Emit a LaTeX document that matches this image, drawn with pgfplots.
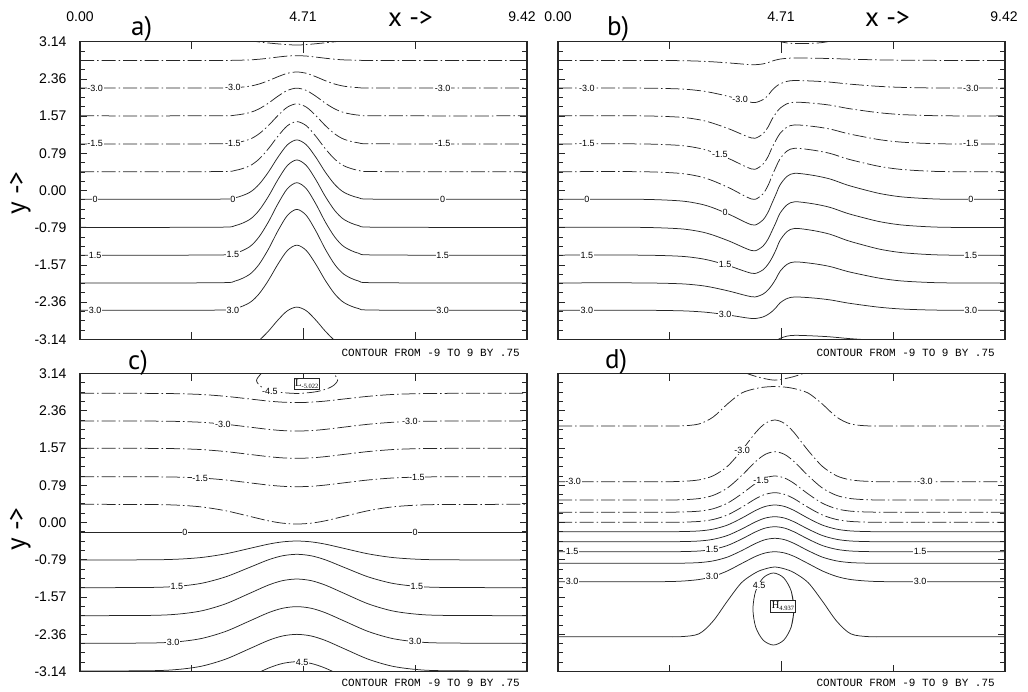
\documentclass[border=0pt]{standalone}
\usepackage{fontspec}
\setmainfont{Liberation Sans}
\newfontfamily\headfont{PT Sans}
\newfontfamily\cfont{Liberation Mono}
\newfontfamily\boxfont{Liberation Serif}
\usepackage{pgfplots}
\usepackage{pgfplotstable}
\pgfplotsset{compat=1.18}

% contour lines, one column per level (y position of the line at each x)
\pgfplotstableread{
x     l1    l2    l3    l4    l5    l6     l7     l8     l9     l10    l11
0     2.745 2.161 1.575 0.983 0.397 -0.186 -0.778 -1.364 -1.950 -2.527 -3.400
2.87  2.745 2.162 1.576 0.985 0.399 -0.183 -0.775 -1.361 -1.947 -2.524 -3.398
3.27  2.748 2.170 1.590 1.005 0.424 -0.153 -0.741 -1.324 -1.910 -2.491 -3.376
3.57  2.756 2.200 1.642 1.079 0.517 -0.043 -0.616 -1.190 -1.773 -2.370 -3.293
3.77  2.770 2.246 1.721 1.194 0.660 0.126  -0.424 -0.983 -1.564 -2.185 -3.166
3.97  2.791 2.317 1.843 1.370 0.881 0.388  -0.126 -0.664 -1.239 -1.898 -2.969
4.17  2.816 2.401 1.989 1.581 1.144 0.701  0.228  -0.283 -0.853 -1.556 -2.735
4.37  2.837 2.473 2.111 1.759 1.366 0.964  0.527  0.038  -0.527 -1.267 -2.538
4.57  2.845 2.501 2.160 1.829 1.454 1.068  0.645  0.165  -0.398 -1.153 -2.460
4.77  2.837 2.473 2.111 1.759 1.366 0.964  0.527  0.038  -0.527 -1.267 -2.538
4.97  2.816 2.401 1.989 1.581 1.144 0.701  0.228  -0.283 -0.853 -1.556 -2.735
5.17  2.791 2.317 1.843 1.370 0.881 0.388  -0.126 -0.664 -1.239 -1.898 -2.969
5.37  2.770 2.246 1.721 1.194 0.660 0.126  -0.424 -0.983 -1.564 -2.185 -3.166
5.57  2.756 2.200 1.642 1.079 0.517 -0.043 -0.616 -1.190 -1.773 -2.370 -3.293
5.87  2.748 2.170 1.590 1.005 0.424 -0.153 -0.741 -1.324 -1.910 -2.491 -3.376
6.27  2.745 2.162 1.576 0.985 0.399 -0.183 -0.775 -1.361 -1.947 -2.524 -3.398
9.42  2.745 2.161 1.575 0.983 0.397 -0.186 -0.778 -1.364 -1.950 -2.527 -3.400
}\tabA

\pgfplotstableread{
x     l1    l2    l3    l4    l5     l6     l7     l8     l9     l10    l11
0     2.745 2.161 1.575 0.983 0.397  -0.186 -0.778 -1.364 -1.950 -2.527 -3.200
1.728 2.745 2.161 1.575 0.983 0.397  -0.186 -0.778 -1.364 -1.950 -2.527 -3.200
2.571 2.740 2.143 1.547 0.951 0.362  -0.219 -0.808 -1.387 -1.968 -2.538 -3.200
2.993 2.729 2.106 1.490 0.887 0.292  -0.284 -0.867 -1.434 -2.003 -2.559 -3.200
3.267 2.715 2.060 1.419 0.806 0.204  -0.365 -0.941 -1.492 -2.048 -2.585 -3.200
3.625 2.690 1.978 1.292 0.662 0.047  -0.512 -1.075 -1.596 -2.128 -2.633 -3.200
3.983 2.661 1.880 1.141 0.491 -0.140 -0.686 -1.233 -1.720 -2.222 -2.689 -3.200
4.152 2.654 1.856 1.103 0.448 -0.187 -0.729 -1.273 -1.751 -2.246 -2.703 -3.200
4.320 2.672 1.917 1.197 0.555 -0.070 -0.620 -1.174 -1.674 -2.187 -2.668 -3.200
4.426 2.699 2.008 1.339 0.715 0.105  -0.458 -1.026 -1.558 -2.098 -2.615 -3.200
4.510 2.731 2.115 1.504 0.903 0.309  -0.267 -0.852 -1.422 -1.994 -2.553 -3.200
4.594 2.755 2.193 1.633 1.063 0.496  -0.076 -0.670 -1.251 -1.861 -2.471 -3.171
4.679 2.773 2.250 1.735 1.204 0.669  0.117  -0.480 -1.053 -1.706 -2.372 -3.121
4.826 2.790 2.303 1.830 1.337 0.833  0.298  -0.302 -0.867 -1.559 -2.280 -3.073
4.995 2.796 2.322 1.865 1.385 0.892  0.364  -0.237 -0.799 -1.506 -2.246 -3.056
5.374 2.792 2.309 1.842 1.353 0.852  0.320  -0.280 -0.844 -1.542 -2.268 -3.068
5.732 2.785 2.287 1.801 1.297 0.783  0.243  -0.356 -0.923 -1.604 -2.308 -3.088
6.091 2.773 2.250 1.735 1.204 0.669  0.117  -0.480 -1.053 -1.706 -2.372 -3.121
6.428 2.764 2.222 1.685 1.136 0.585  0.023  -0.572 -1.149 -1.781 -2.420 -3.145
6.786 2.756 2.196 1.639 1.071 0.506  -0.065 -0.659 -1.240 -1.852 -2.465 -3.168
7.208 2.750 2.177 1.604 1.023 0.447  -0.131 -0.724 -1.307 -1.906 -2.499 -3.186
7.735 2.747 2.166 1.584 0.995 0.412  -0.169 -0.762 -1.347 -1.937 -2.519 -3.196
8.262 2.745 2.161 1.575 0.983 0.397  -0.186 -0.778 -1.364 -1.950 -2.527 -3.200
9.42  2.745 2.161 1.575 0.983 0.397  -0.186 -0.778 -1.364 -1.950 -2.527 -3.200
}\tabB

\pgfplotstableread{
x     l1    l2    l3    l4    l5     l6     l7     l8     l9     l10    l11    l12
0     2.723 2.139 1.564 0.965 0.383  -0.207 -0.790 -1.374 -1.964 -2.546 -3.130 -3.750
1.5   2.721 2.137 1.562 0.963 0.379  -0.207 -0.786 -1.368 -1.957 -2.539 -3.123 -3.743
2.07  2.714 2.130 1.555 0.956 0.365  -0.207 -0.772 -1.343 -1.930 -2.512 -3.096 -3.714
2.57  2.697 2.111 1.536 0.937 0.327  -0.207 -0.736 -1.279 -1.860 -2.442 -3.026 -3.640
3.07  2.659 2.070 1.495 0.896 0.248  -0.207 -0.660 -1.145 -1.713 -2.295 -2.879 -3.485
3.57  2.604 2.011 1.436 0.837 0.131  -0.207 -0.547 -0.947 -1.495 -2.077 -2.661 -3.255
3.97  2.559 1.963 1.388 0.789 0.036  -0.207 -0.456 -0.786 -1.319 -1.901 -2.485 -3.069
4.27  2.536 1.937 1.362 0.763 -0.014 -0.207 -0.408 -0.701 -1.225 -1.807 -2.391 -2.970
4.57  2.527 1.928 1.353 0.754 -0.032 -0.207 -0.390 -0.670 -1.191 -1.773 -2.357 -2.934
4.87  2.536 1.937 1.362 0.763 -0.014 -0.207 -0.408 -0.701 -1.225 -1.807 -2.391 -2.970
5.17  2.559 1.963 1.388 0.789 0.036  -0.207 -0.456 -0.786 -1.319 -1.901 -2.485 -3.069
5.57  2.604 2.011 1.436 0.837 0.131  -0.207 -0.547 -0.947 -1.495 -2.077 -2.661 -3.255
6.07  2.659 2.070 1.495 0.896 0.248  -0.207 -0.660 -1.145 -1.713 -2.295 -2.879 -3.485
6.57  2.697 2.111 1.536 0.937 0.327  -0.207 -0.736 -1.279 -1.860 -2.442 -3.026 -3.640
7.07  2.714 2.130 1.555 0.956 0.365  -0.207 -0.772 -1.343 -1.930 -2.512 -3.096 -3.714
7.64  2.721 2.137 1.562 0.963 0.379  -0.207 -0.786 -1.368 -1.957 -2.539 -3.123 -3.743
9.42  2.723 2.139 1.564 0.965 0.383  -0.207 -0.790 -1.374 -1.964 -2.546 -3.130 -3.750
}\tabC

\pgfplotstableread{
x     l1    l2    l3    l4    l5    l6     l7     l8     l9     l10    l11
0     2.034 0.860 0.474 0.217 0.004 -0.194 -0.405 -0.616 -0.860 -1.248 -2.407
2.07  2.034 0.860 0.474 0.217 0.004 -0.194 -0.405 -0.616 -0.860 -1.247 -2.407
2.57  2.034 0.865 0.478 0.220 0.006 -0.192 -0.403 -0.614 -0.858 -1.237 -2.407
2.97  2.076 0.898 0.504 0.239 0.022 -0.178 -0.390 -0.601 -0.845 -1.202 -2.346
3.27  2.223 0.985 0.572 0.290 0.064 -0.140 -0.354 -0.565 -0.809 -1.136 -2.076
3.57  2.497 1.184 0.727 0.407 0.159 -0.054 -0.274 -0.485 -0.729 -1.020 -1.655
3.87  2.729 1.518 0.989 0.603 0.320 0.091  -0.138 -0.349 -0.593 -0.864 -1.265
4.17  2.824 1.901 1.289 0.828 0.504 0.257  0.017  -0.194 -0.438 -0.711 -1.054
4.37  2.855 2.090 1.437 0.939 0.594 0.339  0.094  -0.117 -0.361 -0.641 -0.976
4.57  2.866 2.160 1.492 0.980 0.628 0.369  0.122  -0.089 -0.333 -0.616 -0.938
4.77  2.855 2.090 1.437 0.939 0.594 0.339  0.094  -0.117 -0.361 -0.641 -0.976
4.97  2.824 1.901 1.289 0.828 0.504 0.257  0.017  -0.194 -0.438 -0.711 -1.054
5.27  2.729 1.518 0.989 0.603 0.320 0.091  -0.138 -0.349 -0.593 -0.864 -1.265
5.57  2.497 1.184 0.727 0.407 0.159 -0.054 -0.274 -0.485 -0.729 -1.020 -1.655
5.87  2.223 0.985 0.572 0.290 0.064 -0.140 -0.354 -0.565 -0.809 -1.136 -2.076
6.17  2.076 0.898 0.504 0.239 0.022 -0.178 -0.390 -0.601 -0.845 -1.202 -2.346
6.57  2.034 0.865 0.478 0.220 0.006 -0.192 -0.403 -0.614 -0.858 -1.237 -2.407
7.07  2.034 0.860 0.474 0.217 0.004 -0.194 -0.405 -0.616 -0.860 -1.247 -2.407
9.42  2.034 0.860 0.474 0.217 0.004 -0.194 -0.405 -0.616 -0.860 -1.248 -2.407
}\tabD

\pgfplotsset{
  cplot/.style={
    scale only axis, width=447pt, height=297.6pt,
    xmin=0, xmax=9.42, ymin=-3.14, ymax=3.14,
    axis line style={line width=1.3pt, black!85},
    tick align=inside,
    xtick={2.355,7.065}, xticklabels={},
    extra x ticks={4.71}, extra x tick labels={},
    extra x tick style={major tick length=11pt},
    major tick length=7pt, minor tick length=5pt,
    ytick={-3.14,-2.355,-1.57,-0.785,0,0.785,1.57,2.355,3.14},
    minor y tick num=3,
    tick style={black!85, line width=0.8pt},
    yticklabels={-3.14,-2.36,-1.57,-0.79,0.00,0.79,1.57,2.36,3.14},
    yticklabel style={font=\fontsize{14}{14}\selectfont, xshift=-10pt},
  },
  pos/.style={black!85, line width=0.75pt, smooth, no markers},
  neg/.style={black!85, line width=0.75pt, smooth, no markers,
    dash pattern=on 14pt off 3pt on 1.5pt off 3pt},
}
\newcommand{\clab}[3]{\node[font=\fontsize{9}{9}\selectfont, fill=white, inner sep=0.6pt] at (axis cs:#1,#2) {#3};}

\begin{document}
\begin{tikzpicture}
\useasboundingbox (0,0) rectangle (1028pt,-691pt);

% a)
\begin{axis}[cplot, at={(80pt,-41.7pt)}, anchor=north west]
\foreach \c in {l1,l2,l3,l4,l5} {\addplot[neg] table[x=x,y=\c]{\tabA};}
\foreach \c in {l6,l7,l8,l9,l10,l11} {\addplot[pos] table[x=x,y=\c]{\tabA};}
\addplot[neg] coordinates {(3.5,3.17) (4.0,3.11) (4.57,3.07) (5.1,3.11) (5.65,3.17)};
\clab{0.32}{2.161}{-3.0} \clab{3.22}{2.166}{-3.0} \clab{7.64}{2.161}{-3.0}
\clab{0.32}{0.983}{-1.5} \clab{3.22}{0.990}{-1.5} \clab{7.64}{0.983}{-1.5}
\clab{0.32}{-0.186}{0} \clab{3.22}{-0.180}{0} \clab{7.64}{-0.186}{0}
\clab{0.32}{-1.364}{1.5} \clab{3.22}{-1.358}{1.5} \clab{7.64}{-1.364}{1.5}
\clab{0.32}{-2.527}{3.0} \clab{3.22}{-2.521}{3.0} \clab{7.64}{-2.527}{3.0}
\end{axis}

% b)
\begin{axis}[cplot, yticklabels={}, at={(558pt,-41.7pt)}, anchor=north west]
\foreach \c in {l1,l2,l3,l4,l5} {\addplot[neg] table[x=x,y=\c]{\tabB};}
\foreach \c in {l6,l7,l8,l9,l10,l11} {\addplot[pos] table[x=x,y=\c]{\tabB};}
\addplot[neg] coordinates {(4.55,3.17) (4.85,3.11) (5.2,3.10) (5.55,3.12) (5.85,3.17)};
\clab{0.61}{2.161}{-3.0} \clab{3.84}{1.92}{-3.0} \clab{8.70}{2.161}{-3.0}
\clab{0.61}{0.983}{-1.5} \clab{3.41}{0.76}{-1.5} \clab{8.70}{0.983}{-1.5}
\clab{0.61}{-0.186}{0} \clab{3.52}{-0.468}{0} \clab{8.70}{-0.186}{0}
\clab{0.61}{-1.364}{1.5} \clab{3.52}{-1.565}{1.5} \clab{8.70}{-1.364}{1.5}
\clab{0.61}{-2.527}{3.0} \clab{3.52}{-2.619}{3.0} \clab{8.70}{-2.527}{3.0}
\end{axis}

% c)
\begin{axis}[cplot, height=298pt, at={(80pt,-373.5pt)}, anchor=north west]
\foreach \c in {l1,l2,l3,l4,l5} {\addplot[neg] table[x=x,y=\c]{\tabC};}
\foreach \c in {l6,l7,l8,l9,l10,l11,l12} {\addplot[pos] table[x=x,y=\c]{\tabC};}
\addplot[neg] coordinates {(3.84,3.16) (3.72,3.0) (3.82,2.86) (4.1,2.76) (4.57,2.72) (5.0,2.76) (5.3,2.86) (5.43,3.0) (5.33,3.16)};
\clab{3.01}{2.077}{-3.0} \clab{6.95}{2.127}{-3.0}
\clab{2.53}{0.939}{-1.5} \clab{7.10}{0.956}{-1.5}
\clab{2.21}{-0.207}{0} \clab{7.06}{-0.207}{0}
\clab{2.04}{-1.345}{1.5} \clab{7.10}{-1.345}{1.5}
\clab{1.96}{-2.520}{3.0} \clab{7.06}{-2.511}{3.0}
\clab{4.68}{-2.94}{4.5} \clab{4.00}{2.76}{-4.5}
\node[draw=black!85, fill=white, line width=0.6pt, inner sep=1.3pt, font=\boxfont\fontsize{10.5}{10.5}\selectfont]
  at (axis cs:4.78,2.92) {L\raisebox{-2pt}{\fontsize{6.5}{6.5}\selectfont -5.022}};
\end{axis}

% d)
\begin{axis}[cplot, height=298pt, yticklabels={}, at={(558pt,-373.5pt)}, anchor=north west]
\foreach \c in {l1,l2,l3,l4,l5} {\addplot[neg] table[x=x,y=\c]{\tabD};}
\foreach \c in {l6,l7,l8,l9,l10,l11} {\addplot[pos] table[x=x,y=\c]{\tabD};}
\addplot[neg] coordinates {(3.9,3.17) (4.2,3.07) (4.57,3.00) (4.95,3.07) (5.25,3.17)};
\addplot[pos] coordinates {(4.914,-2.203) (4.972,-1.823) (4.914,-1.444) (4.756,-1.166) (4.54,-1.064) (4.324,-1.166) (4.166,-1.444) (4.108,-1.823) (4.166,-2.203) (4.324,-2.480) (4.54,-2.582) (4.756,-2.480) (4.914,-2.203) (4.972,-1.823) (4.914,-1.444)};
\clab{0.32}{0.860}{-3.0} \clab{3.88}{1.53}{-3.0} \clab{7.73}{0.860}{-3.0}
\clab{4.28}{0.88}{-1.5}
\clab{0.30}{-0.616}{1.5} \clab{3.25}{-0.569}{1.5} \clab{7.63}{-0.616}{1.5}
\clab{0.30}{-1.248}{3.0} \clab{3.25}{-1.141}{3.0} \clab{7.63}{-1.248}{3.0}
\clab{4.24}{-1.33}{4.5}
\node[draw=black!85, fill=white, line width=0.6pt, inner sep=1.3pt, font=\boxfont\fontsize{10.5}{10.5}\selectfont]
  at (axis cs:4.74,-1.77) {H\raisebox{-2pt}{\fontsize{6.5}{6.5}\selectfont 4.937}};
\end{axis}

% texts around the panels
\tikzset{tl/.style={anchor=base, inner sep=0, font=\fontsize{14}{14}\selectfont},
         hd/.style={inner sep=0, font=\headfont\fontsize{27}{27}\selectfont},
         ct/.style={anchor=base east, inner sep=0, font=\cfont\fontsize{11}{11}\selectfont}}
\node[tl] at (80pt,-21.7pt) {0.00};
\node[tl] at (303pt,-21.7pt) {4.71};
\node[tl] at (522pt,-21.7pt) {9.42};
\node[tl] at (558pt,-21.7pt) {0.00};
\node[tl] at (781pt,-21.7pt) {4.71};
\node[tl] at (1004pt,-21.7pt) {9.42};
\node[hd, anchor=base west] at (131pt,-35pt) {a)};
\node[hd, anchor=base west] at (607pt,-35pt) {b)};
\node[hd, anchor=base west] at (128pt,-369pt) {c)};
\node[hd, anchor=base west] at (605pt,-368pt) {d)};
\node[hd, anchor=base west] at (388pt,-26pt) {x ->};
\node[hd, anchor=base west] at (865pt,-26pt) {x ->};
\node[hd, anchor=base, rotate=90] at (25pt,-193pt) {y ->};
\node[hd, anchor=base, rotate=90] at (25pt,-529pt) {y ->};
\node[ct] at (520pt,-356.5pt) {CONTOUR FROM -9 TO 9 BY .75};
\node[ct] at (995pt,-356.5pt) {CONTOUR FROM -9 TO 9 BY .75};
\node[ct] at (520pt,-686.5pt) {CONTOUR FROM -9 TO 9 BY .75};
\node[ct] at (995pt,-686.5pt) {CONTOUR FROM -9 TO 9 BY .75};
\end{tikzpicture}
\end{document}
